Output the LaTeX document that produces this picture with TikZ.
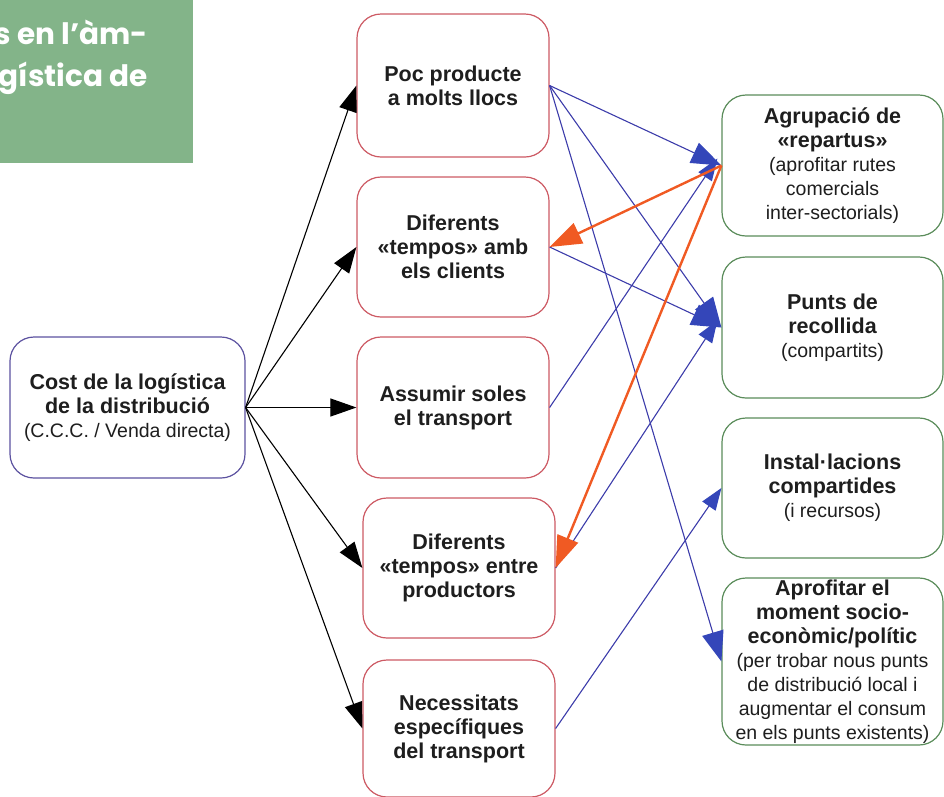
\documentclass[tikz,border=0pt]{standalone}
\usepackage{fontspec}
\setmainfont{Liberation Sans}
\newfontfamily\titlefont{Poppins}
\usetikzlibrary{arrows.meta}

\definecolor{titlegreen}{RGB}{131,180,137}
\definecolor{srcborder}{RGB}{92,82,160}
\definecolor{midborder}{RGB}{205,90,100}
\definecolor{resborder}{RGB}{90,140,90}
\definecolor{linkblue}{RGB}{60,60,170}
\definecolor{headblue}{RGB}{52,70,185}
\definecolor{linkorange}{RGB}{240,90,35}
\definecolor{inktext}{RGB}{30,30,30}

\newcommand{\sm}[1]{{\fontsize{19.5}{22}\selectfont #1}}

\begin{document}
\begin{tikzpicture}[x=1pt,y=-1pt,
  box/.style={draw, fill=white, line width=1.2pt, rounded corners=24pt,
    inner sep=0pt, align=center, text=inktext,
    font=\bfseries\fontsize{21.5}{24}\selectfont},
  srcbox/.style={box, draw=srcborder, minimum width=235pt, minimum height=141pt},
  midbox/.style={box, draw=midborder, minimum width=192pt, minimum height=141pt},
  resbox/.style={box, draw=resborder, minimum width=221pt, minimum height=141pt},
  blk/.style={draw=black, line width=1.1pt, -{Triangle[length=26pt,width=18pt]}},
  bluebig/.style={draw=linkblue, line width=1.1pt, -{Triangle[length=30pt,width=22pt,color=headblue]}},
  bluesmall/.style={draw=linkblue, line width=1.1pt, -{Triangle[length=22pt,width=16pt,color=headblue]}},
  orangelink/.style={draw=linkorange, line width=2.4pt, -{Triangle[length=32pt,width=22pt]}},
  titletext/.style={anchor=base east, text=white, inner sep=0pt,
    font=\titlefont\bfseries\fontsize{29.5}{35}\selectfont}
]
\useasboundingbox (0,0) rectangle (944,796);

% heading band, cut by the page edge
\begin{scope}
  \clip (0,0) rectangle (944,796);
  \fill[titlegreen] (-10,-10) rectangle (193,163);
  \node[titletext] (title1) at (148,44) {s en l’àm-};
  \node[titletext] (title2) at (148,86) {gística de};
\end{scope}

% source
\node[srcbox] (src) at (127.5,407.5)
  {Cost de la logística\\de la distribució\\\mdseries\sm{(C.C.C. / Venda directa)}};

% problems
\node[midbox, minimum height=143pt] (m1) at (453,85.5) {Poc producte\\a molts llocs};
\node[midbox, minimum height=140pt] (m2) at (453,247) {Diferents\\«tempos» amb\\els clients};
\node[midbox] (m3) at (453,407.5) {Assumir soles\\el transport};
\node[midbox, minimum height=140pt] (m4) at (459,568) {Diferents\\«tempos» entre\\productors};
\node[midbox, minimum height=137pt] (m5) at (459,728.5) {Necessitats\\específiques\\del transport};

% answers
\node[resbox] (r1) at (832.5,165.5)
  {Agrupació de\\«repartus»\\\mdseries\sm{(aprofitar rutes}\\\mdseries\sm{comercials}\\\mdseries\sm{inter-sectorials)}};
\node[resbox] (r2) at (832.5,327.5)
  {Punts de\\recollida\\\mdseries\sm{(compartits)}};
\node[resbox, minimum height=140pt] (r3) at (832.5,488)
  {Instal·lacions\\compartides\\\mdseries\sm{(i recursos)}};
\node[resbox, minimum height=167pt] (r4) at (832.5,661.5)
  {Aprofitar el\\moment socio-\\econòmic/polític\\\mdseries\sm{(per trobar nous punts}\\\mdseries\sm{de distribució local i}\\\mdseries\sm{augmentar el consum}\\\mdseries\sm{en els punts existents)}};

% source to problems
\draw[blk] (src.east) -- (m1.west);
\draw[blk] (src.east) -- (m2.west);
\draw[blk] (src.east) -- (m3.west);
\draw[blk] (src.east) -- (m4.west);
\draw[blk] (src.east) -- (m5.west);

% problems to answers
\draw[bluebig] (m1.east) -- (r1.west);
\draw[bluebig] (m1.east) -- (r2.west);
\draw[bluebig] (m1.east) -- (r4.west);
\draw[bluebig] (m2.east) -- (r2.west);
\draw[bluesmall] (m3.east) -- ([xshift=-4pt,yshift=7pt]r1.west);
\draw[bluesmall] (m4.east) -- ([xshift=-4pt,yshift=7pt]r2.west);
\draw[bluesmall] (m5.east) -- (r3.west);

% grouping feeds back
\draw[orangelink] (r1.west) -- (m2.east);
\draw[orangelink] (r1.west) -- (m4.east);
\end{tikzpicture}
\end{document}
